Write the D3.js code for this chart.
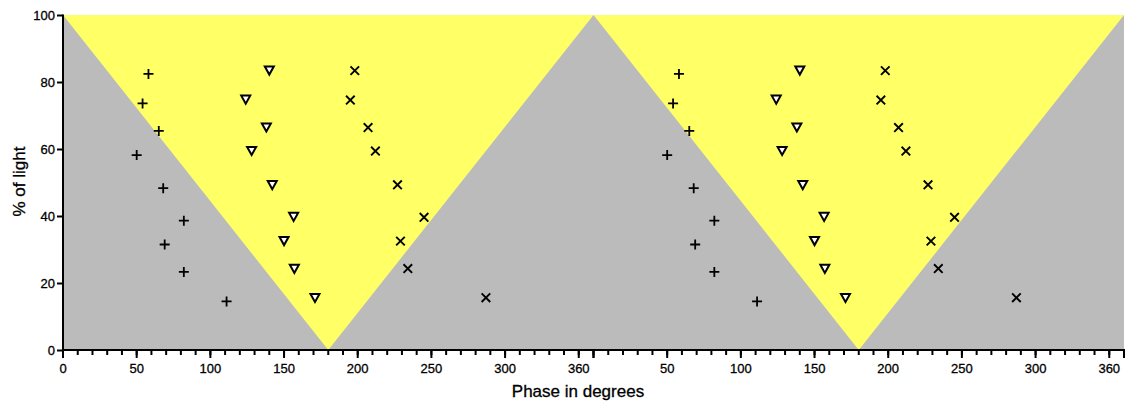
<!DOCTYPE html>
<html><head><meta charset="utf-8">
<script src="https://cdn.jsdelivr.net/npm/d3@7"></script>
<style>body{margin:0;background:#fff;} text{font-family:"Liberation Sans",Arial,sans-serif;fill:#000;stroke:#000;stroke-width:0.3px;}</style>
</head><body>
<svg id="chart" width="1126" height="405"></svg>
<script>
// Data (phase in degrees, % of light) — repeated in second cycle (+360)
const plusPhase  = [58, 54, 65, 50, 68, 82, 69, 82, 111];
const plusLight  = [82.4, 73.6, 65.4, 58.2, 48.3, 38.6, 31.5, 23.3, 14.5];
const triPhase   = [140, 124, 138, 128, 142, 156.5, 150, 157, 171];
const triLight   = [83.5, 74.8, 66.5, 59.5, 49.3, 39.8, 32.6, 24.3, 15.6];
const crossPhase = [198, 195, 207, 212, 227, 245, 229, 234, 287];
const crossLight = [83.4, 74.6, 66.4, 59.4, 49.3, 39.6, 32.5, 24.3, 15.6];
const cycles = [0, 360];
const xMajor = [0, 50, 100, 150, 200, 250, 300, 350];
const xLabelsCycle1 = ["0", "50", "100", "150", "200", "250", "300", "360"];
const xLabelsCycle2 = ["", "50", "100", "150", "200", "250", "300", "360"];
const yTicks = [0, 20, 40, 60, 80, 100];
const lightZone = [[0,100],[180,0],[360,100],[540,0],[720,100]];

const svg = d3.select("#chart");
const x = d3.scaleLinear().domain([0, 720]).range([63, 1124]);
const y = d3.scaleLinear().domain([0, 100]).range([350, 15]);

// background
svg.append("rect").attr("x", x(0)).attr("y", y(100)).attr("width", x(720)-x(0)).attr("height", y(0)-y(100)).attr("fill", "#bbbbbb");
svg.append("path").attr("d", d3.line().x(d=>x(d[0])).y(d=>y(d[1]))(lightZone) + "Z").attr("fill", "#ffff66");

// axes
const yAxis = d3.axisLeft(y).tickValues(yTicks).tickSize(6).tickPadding(2);
const gy = svg.append("g").attr("transform", `translate(${x(0)},0)`).call(yAxis);
gy.select(".domain").attr("stroke-width", 2).attr("d", `M0,${y(100)-0.5}V${y(0)+1}`);
gy.selectAll(".tick line").attr("stroke-width", 2);
gy.selectAll("text").attr("font-size", 13).attr("font-family", '"Liberation Sans",Arial,sans-serif');

const minorVals = d3.range(0, 721, 10);
const majorVals = [], labels = [];
cycles.forEach((c, ci) => xMajor.forEach((v, i) => { majorVals.push(v + c); labels.push(ci ? xLabelsCycle2[i] : xLabelsCycle1[i]); }));
majorVals.push(360, 720);
const gx = svg.append("g").attr("transform", `translate(0,${y(0)})`);
gx.append("line").attr("x1", x(0)-1).attr("x2", x(720)+1).attr("y1", 0).attr("y2", 0).attr("stroke", "#000").attr("stroke-width", 2);
gx.selectAll("line.minor").data(minorVals).join("line").attr("class","minor")
  .attr("x1", d=>x(d)).attr("x2", d=>x(d)).attr("y1", 0).attr("y2", 5).attr("stroke", "#000").attr("stroke-width", 2);
gx.selectAll("line.major").data(majorVals).join("line").attr("class","major")
  .attr("x1", d=>x(d)).attr("x2", d=>x(d)).attr("y1", 0).attr("y2", 8).attr("stroke", "#000").attr("stroke-width", 2);
gx.selectAll("text.lab").data(majorVals.slice(0, labels.length)).join("text").attr("class","lab")
  .attr("x", d=>x(d)).attr("y", 23).attr("text-anchor", "middle").attr("font-size", 13)
  .text((d,i)=>labels[i]);

// axis titles
svg.append("text").attr("x", 578).attr("y", 397).attr("text-anchor", "middle").attr("font-size", 17).text("Phase in degrees");
svg.append("text").attr("transform", `translate(25,${y(50)-1}) rotate(-90)`).attr("text-anchor", "middle").attr("font-size", 17).text("% of light");

// markers
function pts(ph, li) { const out = []; cycles.forEach(c => ph.forEach((p, i) => out.push([p + c, li[i]]))); return out; }
const gm = svg.append("g");
gm.selectAll("path.plus").data(pts(plusPhase, plusLight)).join("path").attr("class","plus")
  .attr("transform", d=>`translate(${x(d[0])},${y(d[1])})`)
  .attr("d", "M-5,0H5M0,-5V5").attr("stroke", "#000").attr("stroke-width", 1.8).attr("fill", "none");
gm.selectAll("path.tri").data(pts(triPhase, triLight)).join("path").attr("class","tri")
  .attr("transform", d=>`translate(${x(d[0])},${y(d[1])})`)
  .attr("d", "M-4.5,-3.8H4.5L0,4.3Z").attr("stroke", "#000").attr("stroke-width", 2).attr("fill", "#fff").attr("stroke-linejoin","miter");
gm.selectAll("path.cross").data(pts(crossPhase, crossLight)).join("path").attr("class","cross")
  .attr("transform", d=>`translate(${x(d[0])},${y(d[1])})`)
  .attr("d", "M-4.3,-4.3L4.3,4.3M-4.3,4.3L4.3,-4.3").attr("stroke", "#000").attr("stroke-width", 1.9).attr("fill", "none");
</script>
</body></html>
